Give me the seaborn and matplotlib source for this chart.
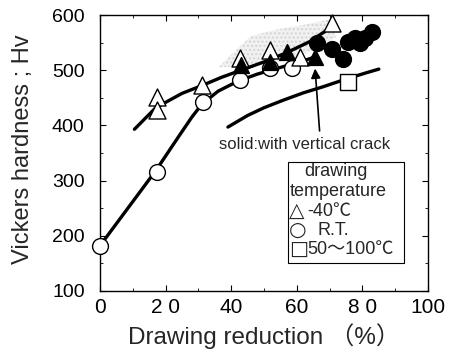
import matplotlib
matplotlib.use("Agg")
import matplotlib.pyplot as plt
import seaborn as sns
from matplotlib.patches import Rectangle, Polygon
from matplotlib.ticker import MultipleLocator

sns.set_theme(style="white")
plt.rcParams['font.family'] = ['Liberation Sans', 'Noto Sans CJK JP', 'DejaVu Sans']

# measured points
tri_open_x = [17.4, 17.4, 31, 42.7, 51.8, 61, 70.7]
tri_open_y = [452, 428, 473, 522, 537, 524, 585]
tri_solid_x = [43, 51.8, 57, 65.5]
tri_solid_y = [509, 515, 533, 524]
circ_open_x = [0, 17.4, 31.4, 42.7, 51.8, 58.5]
circ_open_y = [182, 316, 442, 482, 504, 504]
circ_solid_x = [66, 70.7, 74, 75.6, 77.7, 79.3, 80.8, 83]
circ_solid_y = [549, 538, 520, 551, 558, 549, 558, 569]
sq_x = [75.5]
sq_y = [479]

# fitted trend lines
fit_m40_x = [10.5, 17, 25, 31, 37, 43, 50, 57, 64, 70.5]
fit_m40_y = [393, 432, 458, 472, 487, 500, 515, 532, 552, 578]
fit_rt_x = [0, 17, 24, 28, 31, 36, 42, 48, 55, 62, 66]
fit_rt_y = [182, 318, 380, 415, 438, 462, 480, 493, 505, 517, 525]
fit_hot_x = [39, 45, 50, 56, 62, 68, 75, 81, 85]
fit_hot_y = [397, 418, 432, 446, 459, 470, 484, 495, 502]

# region of scattered crack observations
crack_x = [36, 40, 46, 54, 62, 70, 72, 66, 60, 50]
crack_y = [505, 528, 562, 574, 582, 592, 560, 540, 522, 510]

x_ticks = [0, 20, 40, 60, 80, 100]
x_tick_labels = ['0', '2 0', '40', '60', '8 0', '100']
y_ticks = [100, 200, 300, 400, 500, 600]

legend_symbols = ['△', '○', '□']
legend_labels = ['-40℃', 'R.T.', '50～100℃']
legend_label_x = [63.2, 66.3, 63.2]
legend_row_y = [244, 209, 175]

fig = plt.figure(figsize=(4.64, 3.54), dpi=100)
ax = fig.add_axes([0.2155, 0.178, 0.707, 0.7796])

ax.add_patch(Polygon(list(zip(crack_x, crack_y)), closed=True,
                     facecolor='#e4e4e4', edgecolor='#bdbdbd', hatch='....',
                     linewidth=0, alpha=0.5, zorder=1))

for fx, fy in [(fit_m40_x, fit_m40_y), (fit_rt_x, fit_rt_y), (fit_hot_x, fit_hot_y)]:
    sns.lineplot(x=fx, y=fy, ax=ax, color='black', linewidth=2.4,
                 sort=False, estimator=None, zorder=2)

ms = 130
sns.scatterplot(x=circ_open_x, y=circ_open_y, ax=ax, marker='o', s=ms,
                facecolor='white', edgecolor='black', linewidth=1.0, zorder=4, clip_on=False)
sns.scatterplot(x=tri_open_x, y=tri_open_y, ax=ax, marker='^', s=ms + 20,
                facecolor='white', edgecolor='black', linewidth=1.0, zorder=4, clip_on=False)
sns.scatterplot(x=tri_solid_x, y=tri_solid_y, ax=ax, marker='^', s=ms,
                color='black', edgecolor='black', linewidth=1.0, zorder=5)
sns.scatterplot(x=circ_solid_x, y=circ_solid_y, ax=ax, marker='o', s=ms,
                color='black', edgecolor='black', linewidth=1.0, zorder=5)
sns.scatterplot(x=sq_x, y=sq_y, ax=ax, marker='s', s=ms,
                facecolor='white', edgecolor='black', linewidth=1.0, zorder=4)

ax.annotate('', xy=(65.5, 508), xytext=(67, 385),
            arrowprops=dict(arrowstyle='-|>', color='black', lw=1.2,
                            mutation_scale=14), zorder=6)
ax.text(62.5, 366, 'solid:with vertical crack', ha='center', va='center', fontsize=12)

# legend box drawn as text
ax.add_patch(Rectangle((57.3, 151), 35.4, 183, transform=ax.transData,
                       facecolor='white', edgecolor='black', linewidth=0.8, zorder=6))
lfs = 13
ax.text(72.0, 317, 'drawing', ha='center', va='center', fontsize=lfs, zorder=7)
ax.text(57.8, 281, 'temperature', ha='left', va='center', fontsize=lfs, zorder=7)
for sym, lab, lx, yy in zip(legend_symbols, legend_labels, legend_label_x, legend_row_y):
    ax.text(57.6, yy, sym, ha='left', va='center', fontsize=lfs + 1.5,
            family=['DejaVu Sans'], zorder=7)
    ax.text(lx, yy, lab, ha='left', va='center', fontsize=lfs, zorder=7)

ax.set_xlim(0, 100)
ax.set_ylim(100, 600)
ax.set_xticks(x_ticks)
ax.set_xticklabels(x_tick_labels)
ax.set_yticks(y_ticks)
ax.xaxis.set_minor_locator(MultipleLocator(10))
ax.yaxis.set_minor_locator(MultipleLocator(50))
ax.tick_params(which='both', direction='in', top=True, right=True, bottom=True, left=True,
               colors='black', labelsize=14)
ax.tick_params(axis='x', which='major', labelsize=15)
ax.tick_params(axis='y', which='major', pad=11)
ax.tick_params(axis='x', which='major', pad=5)
ax.tick_params(which='major', length=4, width=0.8)
ax.tick_params(which='minor', length=2.5, width=0.6)
for s in ax.spines.values():
    s.set_visible(True)
    s.set_color('black')
    s.set_linewidth(1.0)

ax.set_xlabel('Drawing reduction （%）', fontsize=17.5)
ax.xaxis.set_label_coords(0.5, -0.115)
ax.set_ylabel('Vickers hardness ; Hv', fontsize=17,
              family=['Liberation Sans Narrow', 'Liberation Sans'])
ax.yaxis.set_label_coords(-0.2, 0.515)

fig.savefig('out.png', dpi=100)
